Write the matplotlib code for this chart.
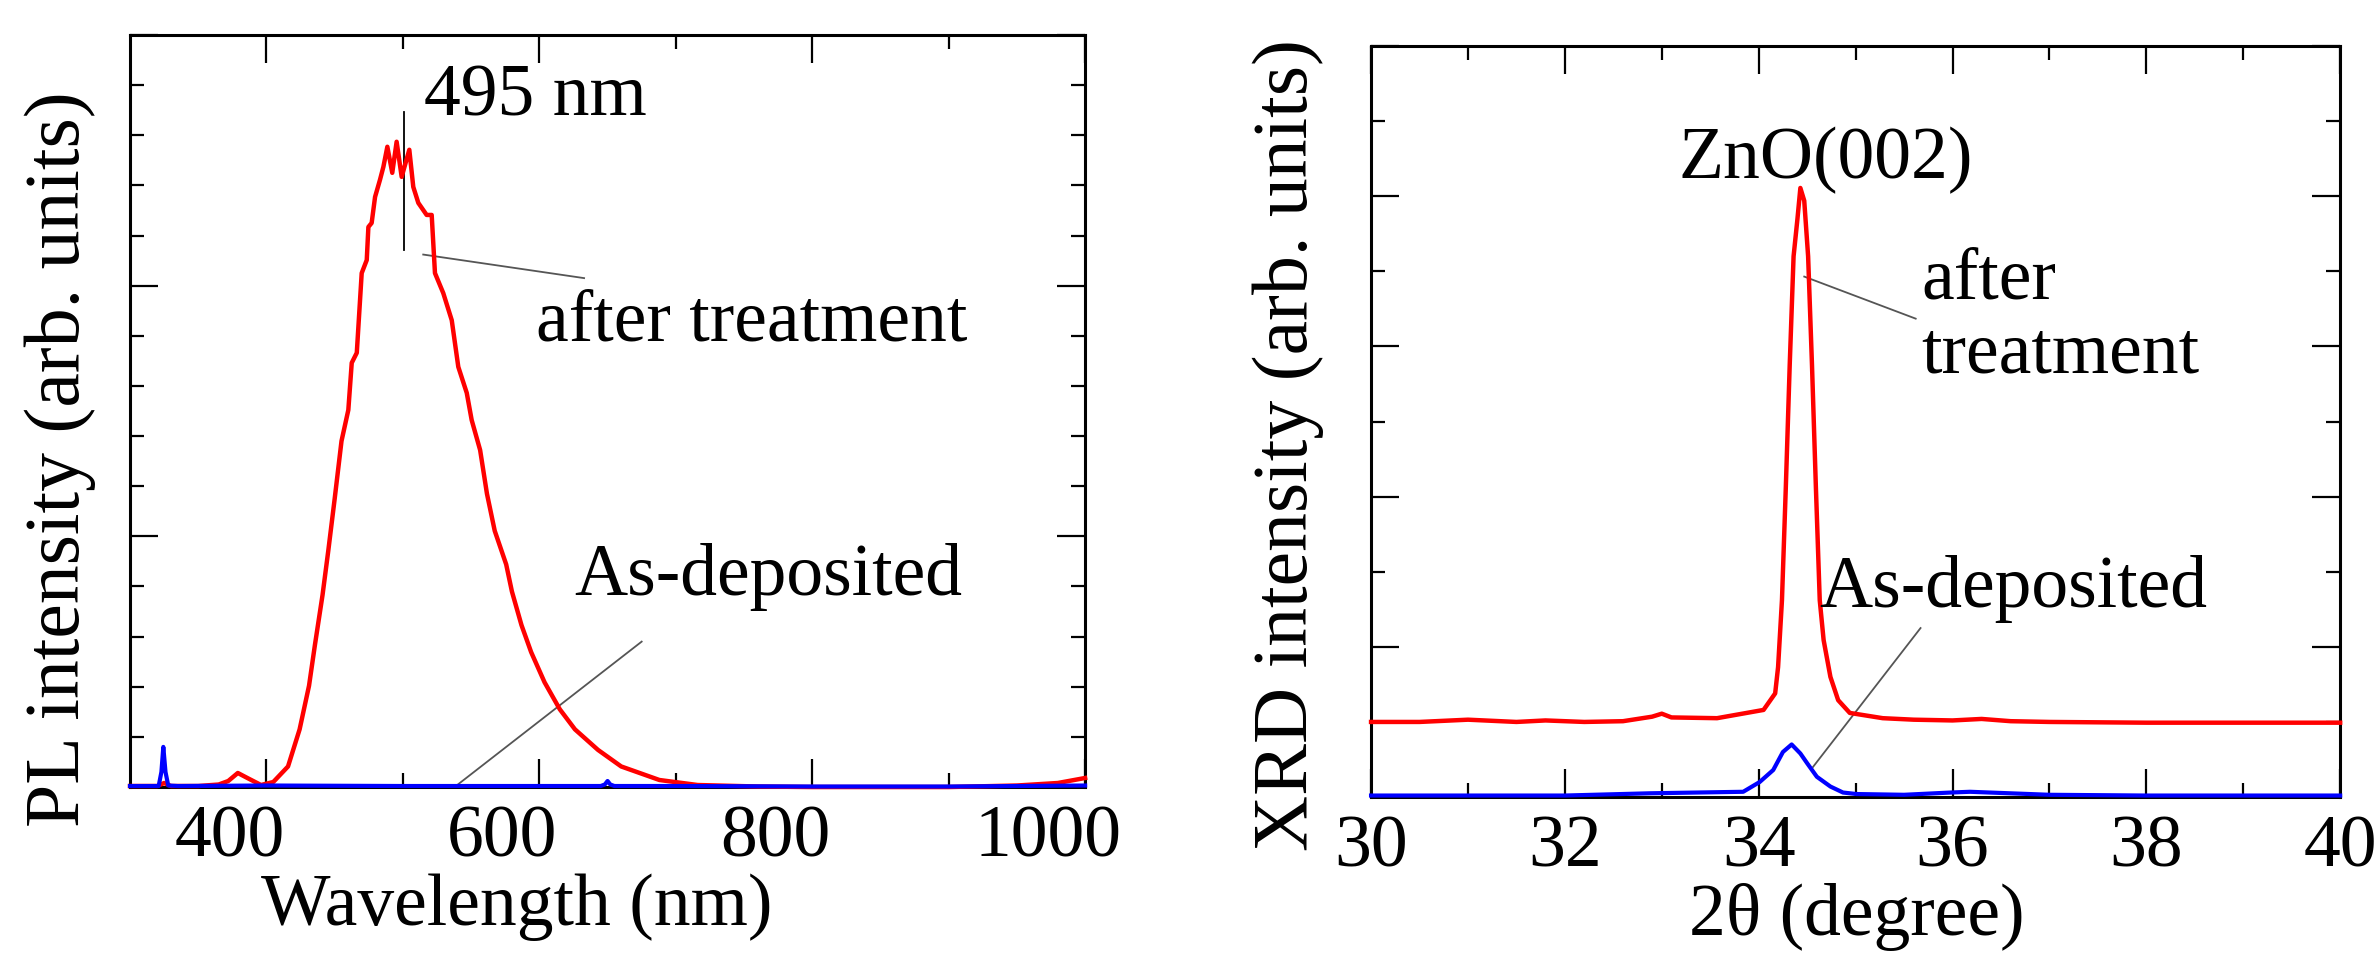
import matplotlib
matplotlib.use("Agg")
import matplotlib.pyplot as plt
import matplotlib.transforms as mtransforms
from matplotlib.ticker import FixedLocator

plt.rcParams['font.family'] = ['Liberation Serif', 'DejaVu Serif']
FS = 53

# PL spectra (arb. units)
pl_nm_after = [300, 320, 325, 330, 350, 365, 372, 379, 386, 396, 405, 415.8, 424.3,
               431.2, 435.5, 441.1, 445.3, 450, 455, 460, 462.5, 466.2, 469.8, 473.5,
               474.7, 477.1, 479.6, 483.2, 485.7, 488.6, 492.2, 495.4, 499.1, 504.7,
               507.6, 511.3, 517.4, 521.1, 523.5, 529.6, 535.8, 540.6, 546.8, 550.4,
               556.6, 561.6, 567.3, 575.7, 579.9, 586.9, 594, 603.8, 615, 626.1, 643,
               660, 688, 716, 760, 800, 900, 950, 980, 1000]
pl_after = [0.002, 0.002, 0.008, 0.002, 0.002, 0.005, 0.012, 0.028, 0.018, 0.004, 0.01,
            0.041, 0.115, 0.202, 0.283, 0.383, 0.471, 0.575, 0.69, 0.752, 0.846, 0.866,
            1.025, 1.051, 1.117, 1.125, 1.177, 1.211, 1.237, 1.277, 1.225, 1.287, 1.217,
            1.271, 1.197, 1.165, 1.141, 1.141, 1.025, 0.985, 0.931, 0.838, 0.786, 0.732,
            0.672, 0.585, 0.511, 0.444, 0.390, 0.323, 0.269, 0.209, 0.155, 0.115, 0.074,
            0.041, 0.014, 0.004, 0.001, 0.0, 0.0, 0.003, 0.008, 0.018]

pl_nm_asdep = [300, 321, 323, 324.4, 326, 328, 335, 400, 500, 600, 645, 648, 650, 652,
               655, 700, 800, 900, 1000]
pl_asdep = [0.002, 0.002, 0.03, 0.08, 0.03, 0.003, 0.002, 0.003, 0.002, 0.002, 0.002,
            0.005, 0.012, 0.005, 0.002, 0.002, 0.001, 0.001, 0.003]

# XRD patterns (arb. units)
xrd_2t_after = [30, 30.5, 31.0, 31.5, 31.8, 32.2, 32.6, 32.9, 33.0, 33.1, 33.57, 34.05,
                34.17, 34.2, 34.24, 34.28, 34.32, 34.36, 34.40, 34.43, 34.47, 34.51,
                34.55, 34.59, 34.63, 34.67, 34.74, 34.82, 34.94, 35.28, 35.6, 36.0, 36.3,
                36.6, 37, 38, 39, 40]
xrd_after = [1.0, 1.0, 1.03, 1.0, 1.02, 1.0, 1.01, 1.07, 1.11, 1.06, 1.05, 1.16, 1.38,
             1.73, 2.62, 4.13, 5.75, 7.2, 7.7, 8.11, 7.94, 7.2, 5.75, 4.13, 2.62, 2.09,
             1.6, 1.29, 1.12, 1.05, 1.03, 1.02, 1.04, 1.01, 1.0, 0.99, 0.99, 0.99]

xrd_2t_asdep = [30, 31, 32, 32.88, 33.84, 34.01, 34.15, 34.25, 34.34, 34.43, 34.5, 34.6,
                34.74, 34.87, 35.01, 35.5, 35.98, 36.18, 37.0, 38, 39, 40]
xrd_asdep = [0.02, 0.02, 0.02, 0.05, 0.07, 0.2, 0.36, 0.6, 0.7, 0.58, 0.45, 0.27, 0.14,
             0.06, 0.04, 0.03, 0.06, 0.07, 0.03, 0.02, 0.02, 0.02]

fig = plt.figure(figsize=(23.77, 9.55), dpi=100)
ax1 = fig.add_axes([0.0547, 0.1759, 0.4018, 0.7875])
ax2 = fig.add_axes([0.5768, 0.1654, 0.4077, 0.7864])

for ax in (ax1, ax2):
    for s in ax.spines.values():
        s.set_linewidth(2.2)
    ax.tick_params(which='both', direction='in', top=True, right=True,
                   labelsize=FS, pad=13, width=1.6)
    ax.tick_params(which='major', length=20)
    ax.tick_params(which='minor', length=10)
    ax.tick_params(axis='y', labelleft=False)

# ---- PL panel
ax1.plot(pl_nm_after, pl_after, color='#ff0000', lw=3.2, clip_on=False, zorder=3)
ax1.plot(pl_nm_asdep, pl_asdep, color='#0000ff', lw=3, clip_on=False, zorder=3)
ax1.set_xlim(300, 1000)
ax1.set_ylim(0, 1.5)
ax1.xaxis.set_major_locator(FixedLocator([400, 600, 800, 1000]))
ax1.xaxis.set_minor_locator(FixedLocator([500, 700, 900]))
ax1.yaxis.set_major_locator(FixedLocator([0, 0.5, 1.0, 1.5]))
ax1.yaxis.set_minor_locator(FixedLocator([i / 10 for i in range(16)]))
# the tick numbers sit a bit left of their ticks in the original
shift = mtransforms.ScaledTranslation(-0.37, 0, fig.dpi_scale_trans)
for lab in ax1.get_xticklabels():
    lab.set_transform(lab.get_transform() + shift)

ax1.plot([500.8, 500.8], [1.071, 1.347], color='black', lw=1.3)
ax1.text(515.5, 1.339, '495 nm', fontsize=FS, va='baseline')
ax1.plot([514.9, 632.8], [1.062, 1.015], color='#555555', lw=1.3)
ax1.text(597.6, 0.890, 'after treatment', fontsize=FS, va='baseline')
ax1.plot([539.8, 675], [0.004, 0.29], color='#555555', lw=1.3)
ax1.text(625.4, 0.383, 'As-deposited', fontsize=FS, va='baseline')

ax1.set_xlabel('Wavelength (nm)', fontsize=FS, va='baseline')
ax1.xaxis.set_label_coords(0.405, -0.1835)
ax1.set_ylabel('PL intensity (arb. units)', fontsize=56)
ax1.yaxis.set_label_coords(-0.0356, 0.436)

# ---- XRD panel
ax2.plot(xrd_2t_after, xrd_after, color='#ff0000', lw=3.2, clip_on=False, zorder=3)
ax2.plot(xrd_2t_asdep, xrd_asdep, color='#0000ff', lw=3, clip_on=False, zorder=3)
ax2.set_xlim(30, 40)
ax2.set_ylim(0, 10)
ax2.xaxis.set_major_locator(FixedLocator(list(range(30, 41, 2))))
ax2.xaxis.set_minor_locator(FixedLocator(list(range(31, 40, 2))))
ax2.yaxis.set_major_locator(FixedLocator(list(range(0, 11, 2))))
ax2.yaxis.set_minor_locator(FixedLocator(list(range(1, 10, 2))))

ax2.text(33.17, 8.24, 'ZnO(002)', fontsize=FS, va='baseline')
ax2.plot([34.47, 35.62], [6.93, 6.37], color='#555555', lw=1.3)
ax2.text(35.68, 6.64, 'after', fontsize=FS, va='baseline')
ax2.text(35.68, 5.65, 'treatment', fontsize=FS, va='baseline')
ax2.plot([34.56, 35.67], [0.40, 2.25], color='#555555', lw=1.3)
ax2.text(34.62, 2.53, 'As-deposited', fontsize=FS, va='baseline')

ax2.set_xlabel('2θ (degree)', fontsize=FS, va='baseline')
ax2.xaxis.set_label_coords(0.5015, -0.1838)
ax2.set_ylabel('XRD intensity (arb. units)', fontsize=56)
ax2.yaxis.set_label_coords(-0.0485, 0.469)

fig.savefig('out.png', dpi=100)
